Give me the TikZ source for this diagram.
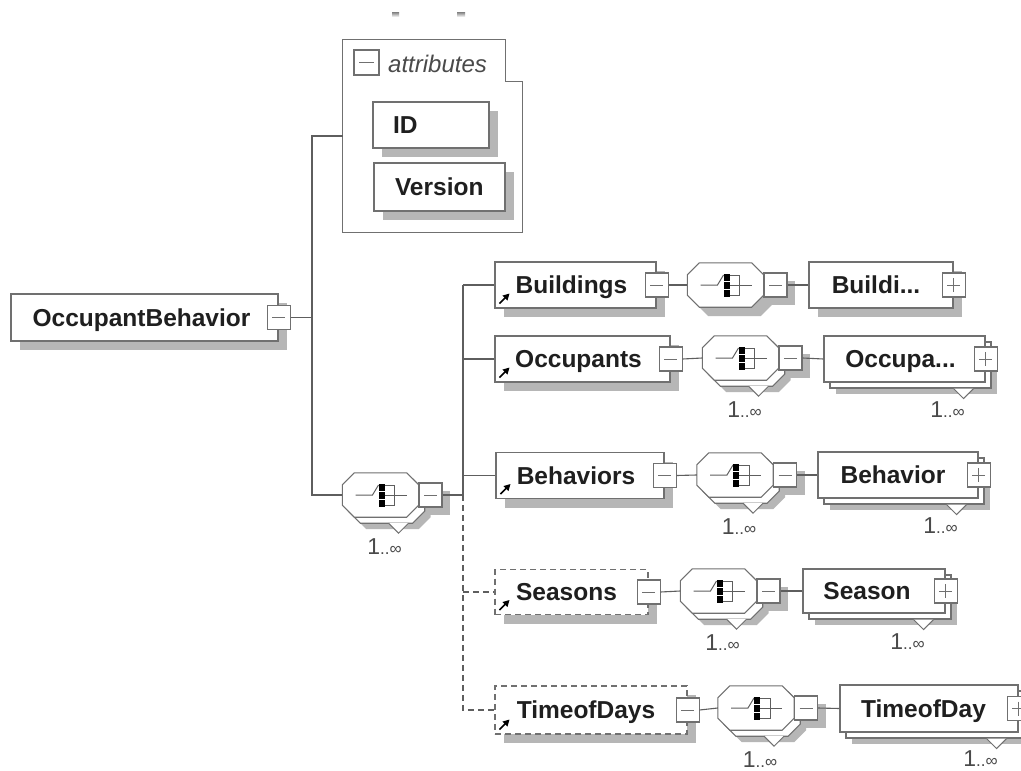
\documentclass[tikz,border=0pt]{standalone}
\usepackage{fontspec}
\setmainfont{Liberation Sans}
\definecolor{edge}{HTML}{707070}
\definecolor{wire}{HTML}{5E5E5E}
\definecolor{shade}{HTML}{B6B6B6}
\definecolor{ink}{HTML}{1F1F1F}
\definecolor{soft}{HTML}{4A4A4A}
\tikzset{
  wire/.style={draw=wire, line width=1.1pt},
  optwire/.style={wire, dash pattern=on 6pt off 4pt},
  sh/.style={preaction={fill=shade, draw=none, transform canvas={shift={(#1,-#1)}}}},
  backcopy/.style={preaction={fill=white, draw=edge, line width=1.1pt, transform canvas={shift={(6pt,-6pt)}}}},
  box/.style={draw=edge, fill=white, line width=1.1pt, minimum height=46pt, inner sep=0pt,
    font=\fontsize{24.5}{28}\selectfont\bfseries, text=ink, text height=17.5pt, text depth=0pt},
  elem/.style={box, sh=9pt},
  optelem/.style={box, sh=9pt, dash pattern=on 6pt off 4pt},
  relem/.style={box, sh=12pt, backcopy},
  pm/.style={draw=edge, fill=white, line width=1.1pt, minimum width=23pt, minimum height=24pt, inner sep=0pt},
  minus/.style={pm, path picture={\draw[edge, line width=1pt]
      ([xshift=5pt]path picture bounding box.west) -- ([xshift=-5pt]path picture bounding box.east);}},
  plus/.style={pm, path picture={\draw[edge, line width=1pt]
      ([xshift=5pt]path picture bounding box.west) -- ([xshift=-5pt]path picture bounding box.east)
      ([yshift=-5pt]path picture bounding box.north) -- ([yshift=5pt]path picture bounding box.south);}},
  seqnode/.style={minimum width=76pt, minimum height=44pt, inner sep=0pt},
  octline/.style={fill=white, draw=edge, line width=1.1pt},
  mult/.style={anchor=base, inner sep=0pt, text=soft},
  notch/.style={fill=white, draw=edge, line width=1pt},
}
% chamfered outline around a node, shifted by (#3 right, #4 down)
\newcommand\octo[4][]{%
  \path[#1] ([shift={(#3+12pt,-#4)}]#2.north west)
    -- ([shift={(#3-12pt,-#4)}]#2.north east)
    -- ([shift={(#3,-#4-12pt)}]#2.north east)
    -- ([shift={(#3,-#4+12pt)}]#2.south east)
    -- ([shift={(#3-12pt,-#4)}]#2.south east)
    -- ([shift={(#3+12pt,-#4)}]#2.south west)
    -- ([shift={(#3,-#4+12pt)}]#2.south west)
    -- ([shift={(#3,-#4-12pt)}]#2.north west) -- cycle;}
% sequence symbol inside a compositor
\newcommand\seqicon[1]{%
  \begin{scope}[shift={(#1.center)}, x=1pt, y=1pt]
    \draw[wire, line width=1pt] (-25,0) -- (-8,0) -- (-2,10);
    \fill[black] (-2,11) rectangle (4,4);
    \fill[black] (-2,3) rectangle (4,-4);
    \fill[black] (-2,-5) rectangle (4,-12);
    \draw[wire, line width=1pt] (4,10) -- (14,10) -- (14,-10) -- (4,-10) (4,0) -- (26,0);
  \end{scope}}
\newcommand\mlt{{\fontsize{23}{23}\selectfont 1}{\fontsize{17}{17}\selectfont ..∞}}
% single sequence compositor
\newcommand\seqc[3]{%
  \node[seqnode] (#1) at (#2,#3) {};
  \octo[fill=shade]{#1}{9pt}{9pt}
  \octo[octline]{#1}{0pt}{0pt}
  \seqicon{#1}
  \node[minus, sh=8pt] (#1m) at ([xshift=50pt]#1.center) {};}
% repeated sequence compositor (1..unbounded)
\newcommand\seqr[3]{%
  \node[seqnode] (#1) at (#2,#3) {};
  \octo[fill=shade]{#1}{12pt}{12pt}
  \octo[octline]{#1}{6pt}{6pt}
  \draw[notch] ([shift={(8pt,-6pt)}]#1.south) -- ++(10pt,-10pt) -- ++(10pt,10pt);
  \octo[octline]{#1}{0pt}{0pt}
  \seqicon{#1}
  \node[minus, sh=8pt] (#1m) at ([xshift=50pt]#1.center) {};
  \node[mult] (#1n) at ([shift={(4pt,-59pt)}]#1.center) {\mlt};}
% notch and multiplicity under a repeated element
\newcommand\rep[1]{%
  \draw[notch] ([shift={(-32pt,-6pt)}]#1.south east) -- ++(10pt,-10pt) -- ++(10pt,10pt);
  \node[mult] (#1n) at ([shift={(-38pt,-58pt)}]#1.east) {\mlt};}
% reference arrow in the lower left corner
\newcommand\lnk[1]{%
  \begin{scope}[shift={(#1.south west)}, x=1pt, y=1pt]
    \draw[black, line width=1.6pt] (5,5) -- (11,11);
    \fill[black] (15,15) -- (8,13) -- (13,8) -- cycle;
  \end{scope}}
\begin{document}
\begin{tikzpicture}[x=1pt, y=-1pt]
\fill[white] (0,0) rectangle (1021,771);
\useasboundingbox (0,0) rectangle (1021,771);
\clip (0,0) rectangle (1021,771);

% remnants of text above the attribute group
\fill[shade] (392,12) rectangle (399,17);
\fill[shade] (457,12) rectangle (465,17);

% root element
\node[elem, minimum width=267pt, minimum height=47pt] (ob) at (144.5,317.5) {OccupantBehavior\hspace*{6pt}};
\node[minus] (obm) at (ob.east) {};

% attribute group
\node[minimum width=179pt, minimum height=192pt, inner sep=0pt] (attrs) at (432.5,136) {};
\draw[octline] (attrs.north west) -- ([xshift=-17pt]attrs.north east)
  -- ([shift={(-17pt,-42pt)}]attrs.north east) -- ([yshift=-42pt]attrs.north east)
  -- (attrs.south east) -- (attrs.south west) -- cycle;
\node[minus, minimum width=25pt, minimum height=25pt] (am) at (366.5,62.5) {};
\node[anchor=base west, inner sep=0pt, text=soft, font=\fontsize{24}{26}\selectfont\itshape] (atxt) at (388,72) {attributes};
\node[elem, minimum width=116pt] (id) at (431,125) {\makebox[76pt][l]{ID}};
\node[elem, minimum width=131pt, minimum height=48pt] (ver) at (439.5,187) {\makebox[89pt][l]{Version}};

% main compositor
\seqr{s0}{380.5}{495}

% bus lines
\coordinate (busX) at (312,0);
\coordinate (cbus) at (463,0);
\draw[wire] (obm.east) -- (obm.east -| busX);
\draw[wire] (attrs.west) -| (busX |- s0.west) -- (s0.west);

% row: Buildings
\node[elem, minimum width=161pt] (b1) at (575.5,285) {Buildings\hspace*{8pt}};
\node[minus] (b1m) at (b1.east) {};
\lnk{b1}
\seqc{s1}{725.5}{285}
\node[elem, minimum width=144pt] (e1) at (881,285) {Buildi...\hspace*{10pt}};
\node[plus] (e1p) at (e1.east) {};

% row: Occupants
\node[elem, minimum width=175pt] (b2) at (582.5,359) {Occupants\hspace*{8pt}};
\node[minus] (b2m) at (b2.east) {};
\lnk{b2}
\seqr{s2}{740.5}{358}
\node[relem, minimum width=161pt] (e2) at (904.5,359) {Occupa...\hspace*{8pt}};
\rep{e2}
\node[plus] (e2p) at (e2.east) {};

% row: Behaviors
\node[elem, minimum width=168pt] (b3) at (580,475.5) {Behaviors\hspace*{8pt}};
\node[minus] (b3m) at (b3.east) {};
\lnk{b3}
\seqr{s3}{735}{475}
\node[relem, minimum width=160pt] (e3) at (898,475) {Behavior\hspace*{10pt}};
\rep{e3}
\node[plus] (e3p) at (e3.east) {};

% row: Seasons
\node[optelem, minimum width=153pt, minimum height=45pt] (b4) at (571.5,592) {Seasons\hspace*{10pt}};
\node[minus] (b4m) at (b4.east) {};
\lnk{b4}
\seqr{s4}{718.5}{591}
\node[relem, minimum width=142pt, minimum height=44pt] (e4) at (874,591) {Season\hspace*{14pt}};
\rep{e4}
\node[plus] (e4p) at (e4.east) {};

% row: TimeofDays
\node[optelem, minimum width=192pt, minimum height=48pt] (b5) at (591,710) {TimeofDays\hspace*{10pt}};
\node[minus] (b5m) at (b5.east) {};
\lnk{b5}
\seqr{s5}{756}{708}
\node[relem, minimum width=178pt, minimum height=47pt] (e5) at (929,708.5) {TimeofDay\hspace*{11pt}};
\rep{e5}
\node[plus] (e5p) at (e5.east) {};

% connectors from the main compositor to the children
\draw[wire] (s0m.east) -- (s0m.east -| cbus);
\draw[wire] (b1.west -| cbus) -- (s0m.east -| cbus);
\draw[wire] (b1.west -| cbus) -- (b1.west);
\draw[wire] (b2.west -| cbus) -- (b2.west);
\draw[wire] (b3.west -| cbus) -- (b3.west);
\draw[optwire] (s0m.east -| cbus) |- (b5.west);
\draw[optwire] (b4.west -| cbus) -- (b4.west);

% connectors within each row
\foreach \i in {1,...,5} {
  \draw[wire] (b\i m.east) -- (s\i.west);
  \draw[wire] (s\i m.east) -- (e\i.west);
}
\end{tikzpicture}
\end{document}
